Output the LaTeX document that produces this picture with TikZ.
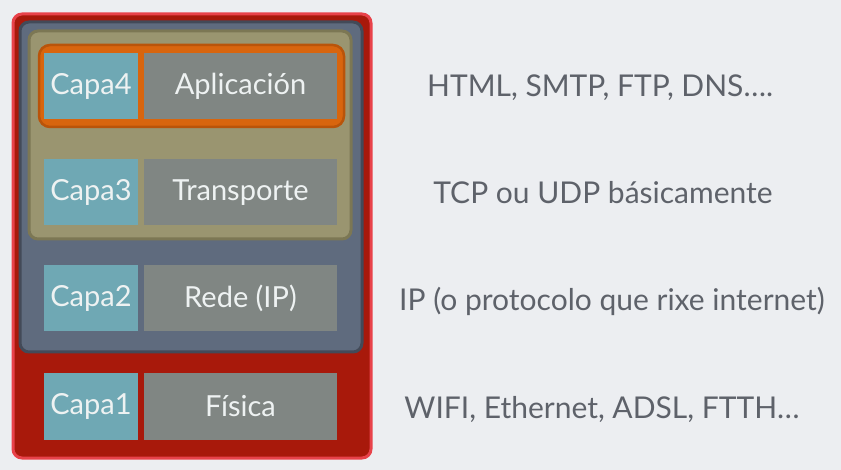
\documentclass[tikz,border=0pt]{standalone}
\usepackage{fontspec}
\setmainfont{Lato}
\definecolor{bg}{HTML}{ECEEF1}
\definecolor{redfill}{HTML}{A8190B}
\definecolor{redline}{HTML}{E8424A}
\definecolor{bluefill}{HTML}{5F6B7E}
\definecolor{blueline}{HTML}{434A58}
\definecolor{olivefill}{HTML}{9A9570}
\definecolor{oliveline}{HTML}{7C7754}
\definecolor{orangefill}{HTML}{D8650E}
\definecolor{orangeline}{HTML}{B9540A}
\definecolor{tealc}{HTML}{6FA8B4}
\definecolor{grayc}{HTML}{808683}
\definecolor{celltext}{HTML}{EEF2F2}
\definecolor{sidetext}{HTML}{5E626A}
\tikzset{
  frame/.style={draw, rounded corners=9pt, inner sep=0pt},
  capacell/.style={fill=tealc, minimum width=94pt, minimum height=66pt, inner sep=0pt, text=celltext, font=\fontsize{29}{33}\selectfont},
  namecell/.style={fill=grayc, minimum width=193pt, minimum height=66pt, inner sep=0pt, text=celltext, font=\fontsize{29}{33}\selectfont},
  sidetxt/.style={text=sidetext, inner sep=0pt, font=\fontsize{30}{34}\selectfont}
}
\begin{document}
\begin{tikzpicture}[x=1pt,y=-1pt]
\fill[bg] (0,0) rectangle (841,470);
\useasboundingbox (0,0) rectangle (841,470);
\node[frame, fill=redfill, draw=redline, line width=3pt, minimum width=358pt, minimum height=444pt] (red) at (192,236) {};
\node[frame, fill=bluefill, draw=blueline, line width=3pt, minimum width=342pt, minimum height=330pt] (blue) at (191,187) {};
\node[frame, fill=olivefill, draw=oliveline, line width=3pt, minimum width=322pt, minimum height=208pt] (olive) at (190,135) {};
\node[frame, fill=orangefill, draw=orangeline, line width=2.5pt, rounded corners=11pt, minimum width=305pt, minimum height=82pt] (orange) at (191.5,86) {};
\node[capacell] (c4) at (91,86) {Capa4};
\node[namecell] (n4) at (240.5,86) {Aplicación};
\node[capacell] (c3) at (91,192.5) {Capa3};
\node[namecell] (n3) at (240.5,192.5) {Transporte};
\node[capacell] (c2) at (91,298.5) {Capa2};
\node[namecell] (n2) at (240.5,298.5) {Rede (IP)};
\node[capacell] (c1) at (91,406.5) {Capa1};
\node[namecell] (n1) at (240.5,406.5) {Física};
\node[sidetxt] (t4) at (600,88) {HTML, SMTP,\ FTP,\ DNS….};
\node[sidetxt] (t3) at (603,193) {TCP ou UDP básicamente};
\node[sidetxt] (t2) at (612,301) {IP (o protocolo que rixe internet)};
\node[sidetxt] (t1) at (602,409) {WIFI, Ethernet, ADSL, FTTH…};
\end{tikzpicture}
\end{document}
